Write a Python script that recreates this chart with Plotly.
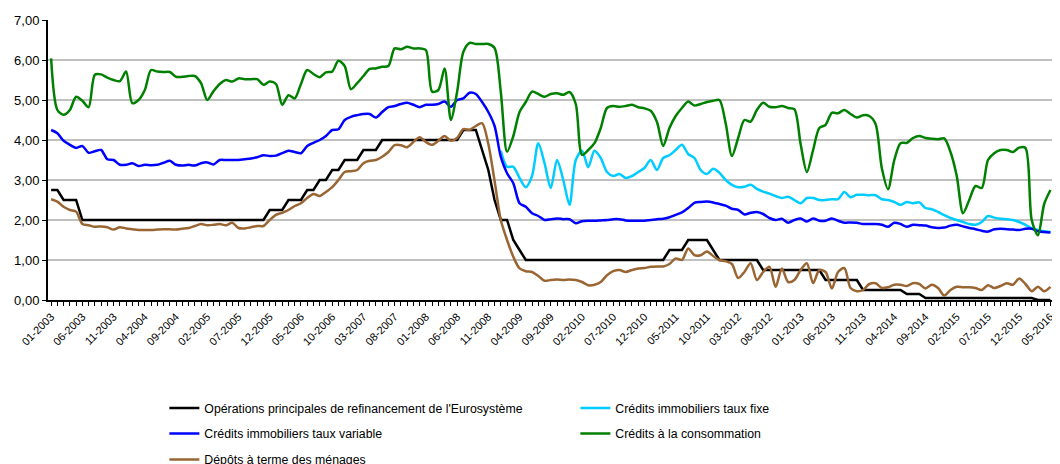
import plotly.graph_objects as go

# ---- data ----
years = list(range(2003, 2017))
months = [f"{mo:02d}-{yr}" for yr in years for mo in range(1, 13)]
months = months[:161]  # 01-2003 .. 05-2016

refi = (
    [2.75, 2.75, 2.50, 2.50, 2.50] + [2.00] * 30 + [2.25, 2.25, 2.25, 2.50, 2.50, 2.50, 2.75, 2.75,
    3.00, 3.00, 3.25, 3.25, 3.50, 3.50, 3.50, 3.75, 3.75, 3.75] + [4.00] * 13 + [4.25, 4.25, 4.25,
    3.75, 3.25, 2.50, 2.00, 2.00, 1.50, 1.25] + [1.00] * 23 + [1.25, 1.25, 1.25, 1.50, 1.50, 1.50,
    1.50, 1.25] + [1.00] * 7 + [0.75] * 10 + [0.50] * 6 + [0.25] * 7 + [0.15] * 3 + [0.05] * 18
    + [0.00] * 3
)

fixe = [None] * 72 + [
    3.73, 3.33, 3.33, 3.05, 2.82, 3.10, 3.92, 3.42, 2.80, 3.50,
    3.00, 2.38, 3.50, 3.73, 3.32, 3.73, 3.55, 3.20, 3.10, 3.15,
    3.05, 3.10, 3.20, 3.30, 3.50, 3.25, 3.55, 3.62, 3.75, 3.88,
    3.65, 3.55, 3.25, 3.15, 3.28, 3.18, 3.00, 2.88, 2.82, 2.83,
    2.88, 2.78, 2.71, 2.66, 2.60, 2.55, 2.58, 2.50, 2.42, 2.55,
    2.55, 2.50, 2.50, 2.52, 2.52, 2.70, 2.57, 2.63, 2.63, 2.62,
    2.62, 2.52, 2.50, 2.45, 2.38, 2.45, 2.42, 2.44, 2.30, 2.27,
    2.20, 2.12, 2.05, 2.00, 1.95, 1.90, 1.88, 1.95, 2.10, 2.06,
    2.03, 2.02, 2.00, 1.95, 1.88, 1.79, 1.75, 1.72, 1.70,
]

variable = [
    4.25, 4.17, 3.98, 3.88, 3.80, 3.85, 3.68, 3.72, 3.75, 3.52,
    3.50, 3.38, 3.38, 3.42, 3.35, 3.38, 3.37, 3.38, 3.43, 3.48,
    3.38, 3.36, 3.38, 3.36, 3.42, 3.44, 3.39, 3.50, 3.50, 3.50,
    3.50, 3.52, 3.54, 3.57, 3.62, 3.60, 3.61, 3.67, 3.73, 3.70,
    3.67, 3.85, 3.93, 4.00, 4.10, 4.25, 4.27, 4.50, 4.58, 4.62,
    4.65, 4.65, 4.56, 4.70, 4.82, 4.85, 4.90, 4.93, 4.88, 4.82,
    4.88, 4.88, 4.90, 4.96, 4.83, 5.00, 5.04, 5.18, 5.15, 4.95,
    4.70, 4.35, 3.58, 3.17, 2.92, 2.42, 2.33, 2.17, 2.10, 2.00,
    2.02, 2.04, 2.02, 2.02, 1.92, 1.97, 1.98, 1.98, 1.99, 2.00,
    2.02, 2.02, 1.99, 1.98, 1.98, 1.98, 2.00, 2.02, 2.03, 2.07,
    2.13, 2.19, 2.30, 2.43, 2.45, 2.46, 2.44, 2.40, 2.36, 2.28,
    2.25, 2.14, 2.18, 2.20, 2.15, 2.05, 2.00, 2.03, 1.93, 2.00,
    2.04, 1.96, 2.04, 1.98, 1.98, 2.04, 1.98, 1.93, 1.94, 1.93,
    1.90, 1.90, 1.90, 1.88, 1.83, 1.93, 1.90, 1.83, 1.88, 1.87,
    1.86, 1.82, 1.80, 1.81, 1.86, 1.88, 1.84, 1.80, 1.77, 1.73,
    1.71, 1.77, 1.78, 1.77, 1.76, 1.75, 1.78, 1.78, 1.72, 1.70,
    1.69,
]

conso = [
    6.04, 4.75, 4.63, 4.75, 5.08, 4.98, 4.82, 5.63, 5.64, 5.56,
    5.50, 5.47, 5.71, 4.92, 5.00, 5.25, 5.75, 5.71, 5.70, 5.70,
    5.58, 5.58, 5.60, 5.60, 5.42, 5.00, 5.22, 5.40, 5.50, 5.46,
    5.54, 5.52, 5.52, 5.52, 5.38, 5.46, 5.40, 4.88, 5.12, 5.04,
    5.40, 5.75, 5.65, 5.57, 5.69, 5.71, 5.98, 5.85, 5.27, 5.42,
    5.60, 5.78, 5.79, 5.83, 5.85, 6.29, 6.27, 6.33, 6.29, 6.29,
    6.25, 5.21, 5.25, 5.79, 4.50, 5.20, 6.20, 6.43, 6.40, 6.40,
    6.40, 6.30, 5.20, 3.71, 4.10, 4.70, 4.95, 5.21, 5.15, 5.08,
    5.15, 5.17, 5.13, 5.20, 4.90, 3.63, 3.75, 3.92, 4.30, 4.80,
    4.85, 4.83, 4.85, 4.88, 4.82, 4.79, 4.73, 4.45, 3.85, 4.30,
    4.60, 4.80, 4.96, 4.86, 4.90, 4.95, 4.98, 5.00, 4.42, 3.60,
    4.05, 4.50, 4.46, 4.75, 4.93, 4.83, 4.82, 4.85, 4.80, 4.77,
    3.90, 3.20, 3.75, 4.30, 4.38, 4.68, 4.67, 4.75, 4.65, 4.56,
    4.62, 4.60, 4.40, 3.30, 2.77, 3.50, 3.92, 3.93, 4.05, 4.10,
    4.05, 4.03, 4.02, 4.04, 3.70, 3.10, 2.17, 2.50, 2.85, 2.80,
    3.50, 3.67, 3.75, 3.75, 3.70, 3.81, 3.80, 2.00, 1.62, 2.40,
    2.75,
]

depots = [
    2.52, 2.46, 2.33, 2.25, 2.21, 1.90, 1.87, 1.83, 1.84, 1.82,
    1.76, 1.82, 1.79, 1.77, 1.75, 1.75, 1.75, 1.76, 1.77, 1.77,
    1.76, 1.78, 1.80, 1.85, 1.90, 1.87, 1.88, 1.90, 1.87, 1.93,
    1.80, 1.79, 1.82, 1.85, 1.85, 2.00, 2.13, 2.18, 2.25, 2.35,
    2.42, 2.55, 2.65, 2.60, 2.70, 2.82, 3.00, 3.20, 3.22, 3.25,
    3.42, 3.48, 3.50, 3.58, 3.70, 3.87, 3.87, 3.82, 3.95, 4.07,
    3.95, 3.88, 3.98, 4.10, 3.98, 4.05, 4.27, 4.25, 4.35, 4.42,
    3.90, 2.98, 2.00, 1.50, 1.08, 0.79, 0.72, 0.70, 0.60, 0.48,
    0.50, 0.51, 0.50, 0.51, 0.50, 0.45, 0.37, 0.38, 0.45, 0.62,
    0.72, 0.75, 0.70, 0.75, 0.79, 0.80, 0.83, 0.84, 0.84, 0.90,
    1.04, 1.00, 1.29, 1.12, 1.12, 1.21, 1.10, 1.00, 0.97, 0.90,
    0.55, 0.70, 0.92, 0.50, 0.70, 0.83, 0.33, 0.79, 0.45, 0.50,
    0.75, 0.92, 0.42, 0.75, 0.70, 0.29, 0.70, 0.80, 0.30, 0.22,
    0.25, 0.40, 0.42, 0.30, 0.32, 0.38, 0.38, 0.35, 0.42, 0.40,
    0.29, 0.38, 0.30, 0.11, 0.25, 0.33, 0.32, 0.32, 0.30, 0.25,
    0.37, 0.30, 0.35, 0.42, 0.38, 0.54, 0.40, 0.22, 0.33, 0.22,
    0.33,
]

names = [
    "Opérations principales de refinancement de l'Eurosystème",
    "Crédits immobiliers taux fixe",
    "Crédits immobiliers taux variable",
    "Crédits à la consommation",
    "Dépôts à terme des ménages",
]
series = [refi, fixe, variable, conso, depots]
colors = ["#000000", "#00CCFF", "#0000FF", "#008000", "#996633"]
shapes = ["linear", "spline", "spline", "spline", "spline"]
legend_ids = ["legend", "legend", "legend2", "legend2", "legend3"]

FONT = "Liberation Sans, Arial, sans-serif"

fig = go.Figure()
for nm, ys, col, shp, lg in zip(names, series, colors, shapes, legend_ids):
    line = dict(color=col, width=2.5, shape=shp)
    if shp == "spline":
        line["smoothing"] = 0.8
    fig.add_trace(go.Scatter(x=months, y=ys, mode="lines", name=nm, line=line,
                             legend=lg, connectgaps=False))

ticktext = [m if i % 5 == 0 else "" for i, m in enumerate(months)]

leg_common = dict(orientation="h", xanchor="left", yanchor="middle",
                  entrywidth=366, entrywidthmode="pixels",
                  font=dict(family=FONT, size=12.3, color="#000000"),
                  bgcolor="rgba(0,0,0,0)", itemclick=False, itemdoubleclick=False)

# the page places the figure 8px in from the top-left corner; size/margins compensate
fig.update_layout(
    width=1044, height=456,
    margin=dict(l=40, r=0, t=12, b=164, autoexpand=False),
    paper_bgcolor="white", plot_bgcolor="white",
    separators=", ",
    font=dict(family=FONT, size=12, color="#000000"),
    showlegend=True,
    legend=dict(x=0.1159, y=-0.386, **leg_common),
    legend2=dict(x=0.1159, y=-0.477, **leg_common),
    legend3=dict(x=0.1159, y=-0.570, **leg_common),
    xaxis=dict(
        type="category", range=[-0.5, 160.25], automargin=False,
        tickmode="array", tickvals=months, ticktext=ticktext,
        tickangle=-45, tickfont=dict(family=FONT, size=11, color="#000000"),
        ticks="outside", ticklen=4, tickwidth=1, tickcolor="#000000",
        showline=True, linecolor="#000000", linewidth=2,
        showgrid=False, zeroline=False,
    ),
    yaxis=dict(
        range=[0, 7], dtick=1, tick0=0, tickformat=".2f", automargin=False,
        tickfont=dict(family=FONT, size=13, color="#000000"),
        ticks="outside", ticklen=4, tickwidth=1, tickcolor="#000000",
        showline=True, linecolor="#000000", linewidth=2,
        showgrid=True, gridcolor="#C0C0C0", gridwidth=1.5, zeroline=False,
    ),
)

fig.write_html("out.html")
